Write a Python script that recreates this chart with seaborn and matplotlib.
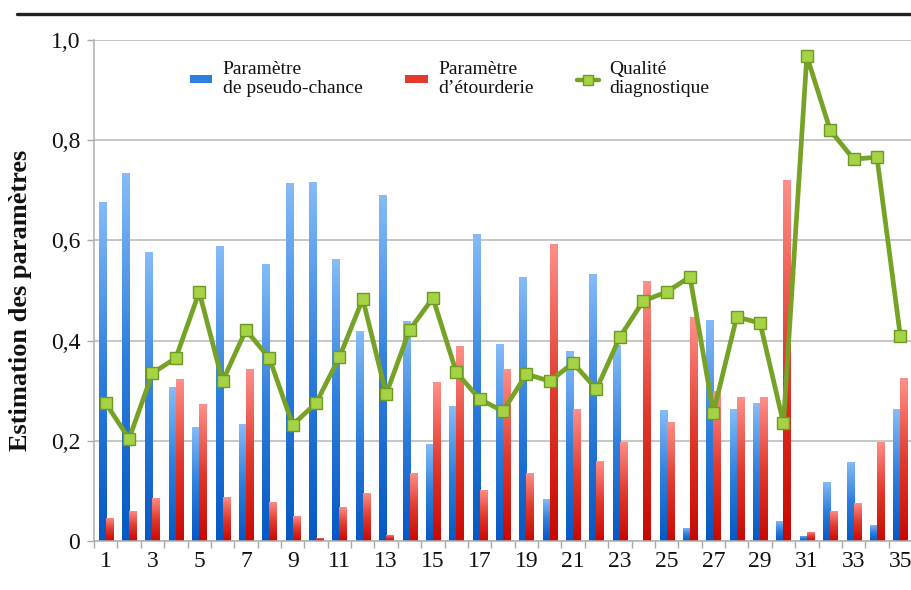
import numpy as np
import pandas as pd
import seaborn as sns
import matplotlib.pyplot as plt
from matplotlib.colors import LinearSegmentedColormap
from matplotlib.patches import Rectangle
from matplotlib.lines import Line2D

# data
items = [str(i) for i in range(1, 36)]
pseudo_chance = [0.677, 0.734, 0.577, 0.307, 0.228, 0.589, 0.233, 0.553, 0.715, 0.716,
                 0.563, 0.419, 0.691, 0.439, 0.194, 0.269, 0.613, 0.393, 0.527, 0.084,
                 0.379, 0.533, 0.391, 0.0, 0.261, 0.026, 0.441, 0.263, 0.275, 0.040,
                 0.010, 0.118, 0.158, 0.032, 0.263]
etourderie = [0.046, 0.060, 0.086, 0.323, 0.273, 0.088, 0.343, 0.078, 0.050, 0.006,
              0.068, 0.096, 0.012, 0.136, 0.317, 0.389, 0.102, 0.343, 0.136, 0.593,
              0.263, 0.160, 0.198, 0.519, 0.238, 0.447, 0.299, 0.287, 0.287, 0.720,
              0.018, 0.060, 0.076, 0.198, 0.325]
qualite = [0.275, 0.204, 0.335, 0.365, 0.497, 0.319, 0.421, 0.365, 0.232, 0.275,
           0.367, 0.483, 0.293, 0.421, 0.485, 0.337, 0.283, 0.259, 0.333, 0.319,
           0.355, 0.303, 0.407, 0.479, 0.497, 0.527, 0.256, 0.447, 0.435, 0.235,
           0.968, 0.820, 0.762, 0.766, 0.409]
series_names = ['Paramètre\nde pseudo-chance', 'Paramètre\nd’étourderie', 'Qualité\ndiagnostique']
ytick_labels = ['0', '0,2', '0,4', '0,6', '0,8', '1,0']

sns.set_theme(style='white')
plt.rcParams['font.family'] = ['Liberation Serif', 'DejaVu Serif']

df = pd.DataFrame({
    'item': items * 2,
    'value': pseudo_chance + etourderie,
    'param': [series_names[0]] * len(items) + [series_names[1]] * len(items),
})

blue_cmap = LinearSegmentedColormap.from_list('b', ['#0558c4', '#2f7fdd', '#86bcf8'])
red_cmap = LinearSegmentedColormap.from_list('r', ['#c80800', '#e23a2e', '#ff9089'])

fig = plt.figure(figsize=(9.12, 5.9), dpi=100)
ax = fig.add_axes([0.1031, 0.0831, 0.8969, 0.8492])

sns.barplot(data=df, x='item', y='value', hue='param', order=items,
            hue_order=series_names[:2], palette=['#2f7fdd', '#e23a2e'],
            width=0.6, gap=0, saturation=1, legend=False, ax=ax)

# gradient fill for each bar, clipped to the bar rectangle
grad = np.linspace(0, 1, 256).reshape(-1, 1)
for patch in list(ax.patches):
    x0, y0 = patch.get_x(), patch.get_y()
    w, h = patch.get_width(), patch.get_height()
    if h <= 0:
        continue
    fc = patch.get_facecolor()
    cmap = blue_cmap if fc[2] > fc[0] else red_cmap
    im = ax.imshow(grad, extent=[x0, x0 + w, y0, y0 + h], origin='lower',
                   aspect='auto', cmap=cmap, zorder=2, interpolation='bilinear')
    im.set_clip_path(patch)
    patch.set_facecolor('none')
    patch.set_edgecolor('none')

sns.lineplot(x=np.arange(len(items)), y=qualite, color='#76a226', linewidth=3.4,
             marker='s', markersize=9, markerfacecolor='#a6d345',
             markeredgecolor='#6d9a22', markeredgewidth=1.0, zorder=5, ax=ax)

ax.set_xlim(-0.5, len(items) - 0.5)
ax.set_ylim(0, 1.0)
ax.set_yticks(np.arange(0, 1.01, 0.2))
ax.set_yticklabels(ytick_labels)
ax.set_xticks(range(0, len(items), 2))
ax.set_xticklabels(items[::2])
ax.set_xticks(np.arange(-0.5, len(items), 1), minor=True)
ax.tick_params(axis='x', which='major', length=0, pad=7, labelsize=17, colors='#111111')
ax.tick_params(axis='x', which='minor', length=5, width=1, color='#a8a8a8', direction='out', bottom=True)
ax.tick_params(axis='y', length=5, width=1, color='#a8a8a8', pad=5, labelsize=17,
               left=True, labelcolor='#111111')
ax.set_xlabel('')
ax.set_ylabel('Estimation des paramètres', fontsize=19, fontweight='bold', color='#111111')
ax.yaxis.set_label_coords(-0.076, 0.48)

ax.set_axisbelow(True)
ax.yaxis.grid(True, color='#b8b8b8', linewidth=1.1)
ax.xaxis.grid(False)
for side in ['top', 'right']:
    ax.spines[side].set_visible(False)
for side in ['left', 'bottom']:
    ax.spines[side].set_color('#b0b0b0')
    ax.spines[side].set_linewidth(1.1)

handles = [
    Rectangle((0, 0), 1, 1, facecolor='#2f7fdd', edgecolor='none'),
    Rectangle((0, 0), 1, 1, facecolor='#e23a2e', edgecolor='none'),
    Line2D([], [], color='#76a226', linewidth=3.2, marker='s', markersize=7,
           markerfacecolor='#a6d345', markeredgecolor='#6d9a22'),
]
leg = ax.legend(handles, series_names, loc='upper left', bbox_to_anchor=(0.117, 0.957),
                ncol=3, frameon=False, fontsize=14, handlelength=1.15, handleheight=0.3,
                handletextpad=0.55, columnspacing=2.2, borderpad=0, borderaxespad=0)
for t in leg.get_texts():
    t.set_linespacing(1.15)
    t.set_color('#111111')

# thick rule above the chart
fig.add_artist(Line2D([17 / 912, 1.0], [1 - 14 / 590] * 2, transform=fig.transFigure,
                      color='#222222', linewidth=2.4))

fig.savefig('out.png', dpi=100)
